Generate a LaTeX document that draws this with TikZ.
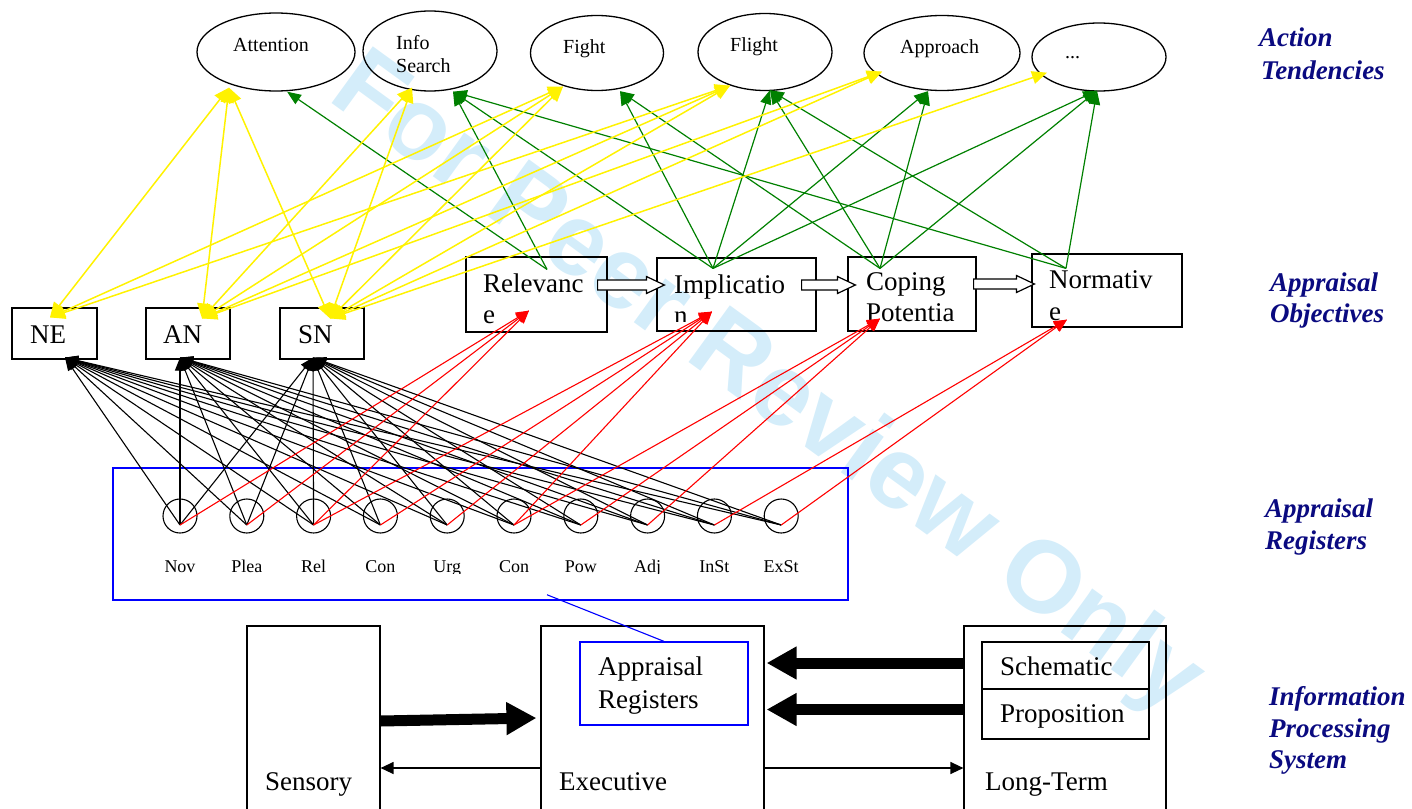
\documentclass[tikz,border=0pt]{standalone}
\usepackage{fontspec}
\setmainfont{Liberation Serif}
\newfontfamily\wmfont{Liberation Sans}
\usetikzlibrary{shapes.geometric,arrows.meta,calc}
\definecolor{greenc}{RGB}{0,128,0}
\definecolor{navyc}{RGB}{10,10,128}
\definecolor{wmc}{RGB}{212,237,250}
\newcommand\hollowar[2]{\draw[hollow] ($(#1)+(0,-5)$) -- ($(#2)+(-18,-5)$) -- ($(#2)+(-18,-8.5)$) -- (#2) -- ($(#2)+(-18,8.5)$) -- ($(#2)+(-18,5)$) -- ($(#1)+(0,5)$) -- cycle;}
\tikzset{
 ell/.style={draw, ellipse, line width=1.3pt, inner sep=0pt},
 obox/.style={draw, rectangle, line width=1.2pt, inner sep=0pt},
 reg/.style={draw, circle, line width=1.1pt, minimum size=34pt, inner sep=0pt},
 et/.style={font=\fontsize{20}{24}\selectfont, anchor=base west, inner sep=0pt},
 bt/.style={font=\fontsize{27}{31}\selectfont, anchor=base west, inner sep=0pt},
 rt/.style={font=\fontsize{18}{20}\selectfont, anchor=base, inner sep=0pt},
 side/.style={font=\fontsize{27}{32}\selectfont\bfseries\itshape, text=navyc, anchor=base west, inner sep=0pt},
 blk/.style={draw=black, line width=1.1pt, -{Triangle[length=13pt,width=10pt]}},
 redl/.style={draw=red, line width=1.1pt, -{Triangle[length=13pt,width=11pt]}},
 grn/.style={draw=greenc, line width=1.2pt, -{Triangle[length=14pt,width=11pt]}},
 yel/.style={draw=yellow, line width=1.5pt, {Triangle[length=15pt,width=13pt]}-{Triangle[length=15pt,width=13pt]}},
 thickar/.style={line width=11pt, -{Triangle[length=30pt,width=31pt]}},
 thinar/.style={line width=1.3pt, -{Triangle[length=13pt,width=12pt]}},
 hollow/.style={draw, fill=white, line width=1.2pt, line join=miter},
}
\begin{document}
\begin{tikzpicture}[x=1pt,y=-1pt]
\useasboundingbox (0,0) rectangle (1412,808);
% watermark
\begin{scope}
\clip (0,0) rectangle (1412,808);
\node[font=\wmfont\bfseries\fontsize{102}{102}\selectfont, text=wmc, rotate=-36, inner sep=0pt] (wm) at (766,386) {For Peer Review Only};
\end{scope}

% action tendencies
\node[ell, minimum width=158pt, minimum height=78pt] (att) at (276,52) {};
\node[ell, minimum width=134pt, minimum height=80pt] (info) at (430,51) {};
\node[ell, minimum width=133pt, minimum height=75pt] (fight) at (597,53) {};
\node[ell, minimum width=134pt, minimum height=77pt] (flight) at (765,52) {};
\node[ell, minimum width=156pt, minimum height=75pt] (appr) at (942,53) {};
\node[ell, minimum width=134pt, minimum height=68pt] (dots) at (1099,57) {};
\node[et] (attT) at (233,52) {Attention};
\node[et] (infoT1) at (396,49) {Info};
\node[et] (infoT2) at (396,73) {Search};
\node[et] (fightT) at (563,53) {Fight};
\node[et] (flightT) at (730,52) {Flight};
\node[et] (apprT) at (900,53) {Approach};
\node[et] (dotsT) at (1065,59) {...};

% appraisal objectives
\node[obox, minimum width=85pt, minimum height=51pt] (ne) at (54.5,333.5) {};
\node[obox, minimum width=84pt, minimum height=51pt] (an) at (188,333.5) {};
\node[obox, minimum width=84pt, minimum height=51pt] (sn) at (322,333.5) {};
\node[bt] (neT) at (30,343) {NE};
\node[bt] (anT) at (163,343) {AN};
\node[bt] (snT) at (298,343) {SN};
\node[obox, minimum width=141pt, minimum height=75pt] (rel) at (536.5,294.5) {};
\node[obox, minimum width=159pt, minimum height=73pt] (imp) at (736.5,294.5) {};
\node[obox, minimum width=128pt, minimum height=74pt] (cop) at (912,294) {};
\node[obox, minimum width=150pt, minimum height=73pt] (nor) at (1107,290.5) {};
\begin{scope}
\clip (466,257) rectangle (607,326);
\node[bt] (relT1) at (483,292) {Relevanc};
\node[bt] (relT2) at (483,323) {e};
\end{scope}
\begin{scope}
\clip (657,258) rectangle (816,321);
\node[bt] (impT1) at (674,293) {Implicatio};
\node[bt] (impT2) at (674,324) {n};
\end{scope}
\begin{scope}
\clip (848,257) rectangle (976,325);
\node[bt] (copT1) at (866,290) {Coping};
\node[bt] (copT2) at (866,321) {Potentia};
\end{scope}
\begin{scope}
\clip (1032,254) rectangle (1182,324);
\node[bt] (norT1) at (1049,288) {Normativ};
\node[bt] (norT2) at (1049,320) {e};
\end{scope}

% appraisal registers
\node[draw=blue, line width=1.5pt, minimum width=735pt, minimum height=132pt, inner sep=0pt] (regbox) at (480.5,534) {};
\foreach \k in {0,...,9} {
  \pgfmathtruncatemacro\j{\k+1}
  \node[reg] (r\j) at ({180+66.8*\k},516) {};
  \coordinate (p\j) at ({180+66.8*\k},525);
}
\begin{scope}
\clip (113,540) rectangle (848,573);
\foreach \lab [count=\k from 0] in {Nov,Plea,Rel,Con,Urg,Con,Pow,Adj,InSt,ExSt}
  \node[rt] (l\k) at ({180+66.8*\k},572) {\lab};
\end{scope}

% information processing system
\node[obox, minimum width=133pt, minimum height=204pt] (sens) at (313.5,728) {};
\node[obox, minimum width=223pt, minimum height=204pt] (exec) at (652.5,728) {};
\node[obox, minimum width=202pt, minimum height=204pt] (ltm) at (1065,728) {};
\node[draw=blue, line width=1.3pt, minimum width=168pt, minimum height=83pt, inner sep=0pt] (arin) at (664,683.5) {};
\node[obox, minimum width=167pt, minimum height=47pt] (schem) at (1065.5,665.5) {};
\node[obox, minimum width=167pt, minimum height=50pt] (prop) at (1065.5,714) {};
\node[bt] (sensT) at (265,790) {Sensory};
\node[bt] (execT) at (559,790) {Executive};
\node[bt] (ltmT) at (985,790) {Long-Term};
\node[bt] (arT1) at (598,675) {Appraisal};
\node[bt] (arT2) at (598,708) {Registers};
\node[bt] (schemT) at (1000,675) {Schematic};
\node[bt] (propT) at (1000,722) {Proposition};

% side labels
\node[side] (s1a) at (1259,47) {Action};
\node[side] (s1b) at (1261,79) {Tendencies};
\node[side] (s2a) at (1270,291) {Appraisal};
\node[side] (s2b) at (1270,322) {Objectives};
\node[side] (s3a) at (1265,517) {Appraisal};
\node[side] (s3b) at (1265,549) {Registers};
\node[side] (s4a) at (1269,705) {Information};
\node[side] (s4b) at (1269,737) {Processing};
\node[side] (s4c) at (1269,768) {System};

% connector end points
\coordinate (neB) at ($(ne.south)+(10.5,-2)$);
\coordinate (anB) at ($(an.south)+(-8,-2)$);
\coordinate (snB) at ($(sn.south)+(-9,-2)$);
\coordinate (relR) at ($(rel.south)+(-7.5,-22)$);
\coordinate (impR) at ($(imp.south)+(-24.5,-20)$);
\coordinate (copR) at ($(cop.south)+(-32,-13)$);
\coordinate (norR) at ($(nor.south)+(-40,-8)$);
\coordinate (relG) at ($(rel.north)+(10.5,13)$);
\coordinate (impG) at ($(imp.north)+(-23.5,11)$);
\coordinate (copG) at ($(cop.north)+(-32,12)$);
\coordinate (norG) at ($(nor.north)+(-41,15)$);
\coordinate (attG) at ($(att.south)+(11,0)$);
\coordinate (infoG) at ($(info.south)+(23,0)$);
\coordinate (fightG) at ($(fight.south)+(23,0)$);
\coordinate (flightG) at ($(flight.south)+(5,-1)$);
\coordinate (apprG) at ($(appr.south)+(-14,0)$);
\coordinate (dotsG) at ($(dots.south)+(-2,-1)$);
\coordinate (neY) at ($(ne.north)+(-4.5,10)$);
\coordinate (anY) at ($(an.north)+(14,11)$);
\coordinate (snY) at ($(sn.north)+(8,11)$);
\coordinate (attY) at ($(att.south)+(-47,-4)$);
\coordinate (infoY) at ($(info.south)+(-18,-4)$);
\coordinate (fightY) at ($(fight.south)+(-34,-4.5)$);
\coordinate (flightY) at ($(flight.south)+(-35,-5.5)$);
\coordinate (apprY) at ($(appr.south)+(-60,-19.5)$);
\coordinate (dotsY) at ($(dots.south)+(-52,-19)$);

% registers -> NE/AN/SN
\foreach \i in {1,...,10} {
  \foreach \t in {neB,anB,snB} \draw[blk] (p\i) -- (\t);
}
% registers -> appraisal objectives
\foreach \s/\t in {1/relR,2/relR,3/relR,3/impR,4/impR,5/impR,6/impR,6/copR,7/copR,8/copR,9/norR,10/norR}
  \draw[redl] (p\s) -- (\t);
% objectives -> tendencies
\foreach \s/\t in {relG/attG,relG/infoG,impG/infoG,impG/fightG,impG/flightG,impG/apprG,impG/dotsG,copG/fightG,copG/flightG,copG/apprG,copG/dotsG,norG/infoG,norG/flightG,norG/dotsG}
  \draw[grn] (\s) -- (\t);
% NE/AN/SN <-> tendencies
\foreach \a/\b in {neY/attY,neY/fightY,neY/flightY,anY/attY,anY/infoY,anY/fightY,anY/flightY,anY/apprY,snY/attY,snY/infoY,snY/fightY,snY/flightY,snY/apprY,snY/dotsY}
  \draw[yel] (\a) -- (\b);

% hollow arrows between objectives
\coordinate (h1s) at ($(rel.east)+(-10,-9.5)$);
\coordinate (h1t) at ($(imp.west)+(8,-9.5)$);
\coordinate (h2s) at ($(imp.east)+(-15,-9.5)$);
\coordinate (h2t) at ($(cop.west)+(8,-9)$);
\coordinate (h3s) at ($(cop.east)+(-3,-10)$);
\coordinate (h3t) at ($(nor.west)+(3,-6.5)$);
\hollowar{h1s}{h1t}
\hollowar{h2s}{h2t}
\hollowar{h3s}{h3t}

% bottom arrows
\draw[thickar] ($(sens.east)+(0,-7)$) -- ($(exec.west)+(-4,-10)$);
\draw[thickar] ($(ltm.west)+(0,-65)$) -- ($(exec.east)+(2,-65)$);
\draw[thickar] ($(ltm.west)+(0,-18.5)$) -- ($(exec.east)+(2,-18.5)$);
\draw[thinar] ($(exec.west)+(0,40)$) -- ($(sens.east)+(0,40)$);
\draw[thinar] ($(exec.east)+(0,40)$) -- ($(ltm.west)+(0,40)$);

% link from register box to executive's register
\coordinate (bls) at ($(regbox.south)+(66.5,-6)$);
\draw[blue, line width=1.1pt] (bls) -- (arin.north);
\end{tikzpicture}
\end{document}
